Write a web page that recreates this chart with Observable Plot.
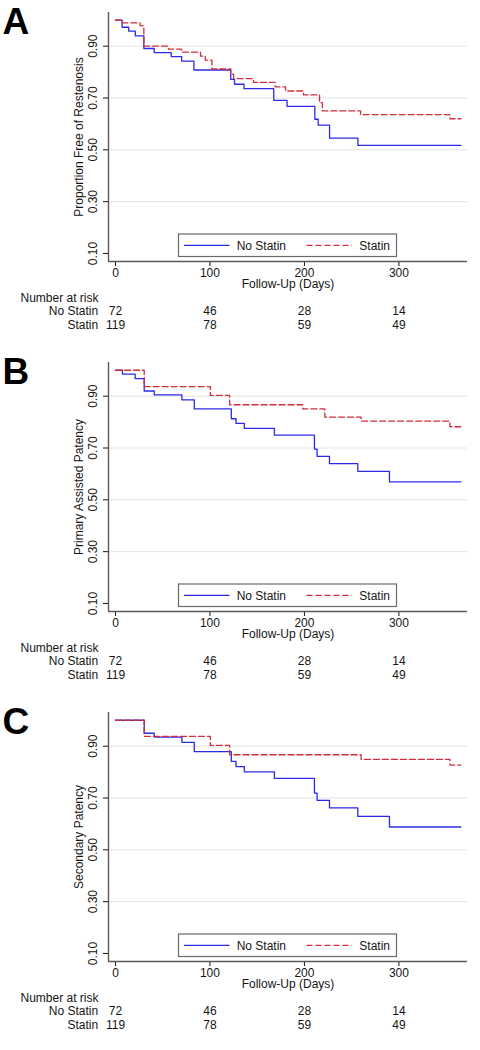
<!DOCTYPE html>
<html><head><meta charset="utf-8">
<script src="https://cdn.jsdelivr.net/npm/d3@7"></script>
<script src="https://cdn.jsdelivr.net/npm/@observablehq/plot@0.6"></script>
<style>
body{margin:0;background:#fff;width:480px;font-family:"Liberation Sans",Arial,Helvetica,sans-serif}
svg{display:block}
</style>
</head><body><div id="chart"></div>
<script>
// ---- data ----
const groups = ["No Statin", "Statin"];
const panelLetters = ["A", "B", "C"];
const yTitles = ["Proportion Free of Restenosis", "Primary Assisted Patency", "Secondary Patency"];
const xTitle = "Follow-Up (Days)";
const xTicks = [0, 100, 200, 300];
const yTicks = [0.1, 0.3, 0.5, 0.7, 0.9];
const gridTicks = [0.3, 0.5, 0.7, 0.9];
const riskTitle = "Number at risk";
const riskDays = [0, 100, 200, 300];
const riskNoStatin = [72, 46, 28, 14];
const riskStatin = [119, 78, 59, 49];
const lastDay = 365.5;

// Panel A
const aNoStatinDays = [0, 7, 14, 21, 30, 41, 59, 70, 83, 122, 126, 136, 167.5, 181.6, 211, 214.6, 226.6, 256.6];
const aNoStatinSurv = [1, 0.973, 0.958, 0.940, 0.891, 0.875, 0.860, 0.842, 0.808, 0.772, 0.753, 0.736, 0.691, 0.668, 0.618, 0.595, 0.545, 0.517];
const aStatinDays = [0, 7, 26, 30, 56, 70, 90, 95, 102, 122, 125, 146, 169, 180, 199, 216, 219, 259.4, 354];
const aStatinSurv = [1, 0.990, 0.979, 0.900, 0.889, 0.877, 0.862, 0.846, 0.812, 0.792, 0.775, 0.760, 0.743, 0.727, 0.712, 0.682, 0.650, 0.636, 0.620];
// Panel B
const bNoStatinDays = [0, 7.4, 20.8, 30.4, 41, 70.3, 83.4, 122.6, 127.6, 136.4, 168.2, 210.6, 213.4, 226.5, 256.5, 290];
const bNoStatinSurv = [1, 0.985, 0.968, 0.920, 0.905, 0.886, 0.851, 0.813, 0.795, 0.776, 0.750, 0.696, 0.668, 0.640, 0.610, 0.569];
const bStatinDays = [0, 30.4, 100.4, 120.8, 198.2, 221.6, 260, 354];
const bStatinSurv = [1, 0.937, 0.903, 0.867, 0.851, 0.819, 0.804, 0.782];
// Panel C
const cNoStatinDays = [0, 30.4, 41, 70.3, 83.4, 122.6, 127.6, 136.4, 168.2, 210.6, 213.4, 226.5, 256.5, 290];
const cNoStatinSurv = [1, 0.950, 0.935, 0.915, 0.879, 0.841, 0.821, 0.801, 0.776, 0.719, 0.691, 0.662, 0.629, 0.588];
const cStatinDays = [0, 30.4, 100.4, 120.8, 260, 354];
const cStatinSurv = [1, 0.938, 0.903, 0.867, 0.849, 0.827];

// ---- styling ----
const blue = "#2b2be6";
const red = "#cf2f3c";
const axisGray = "#5a5a5a";
const gridGray = "#e4e4e4";
const textColor = "#151515";
const font = '"Liberation Sans", Arial, Helvetica, sans-serif';
const xDomain = [-7.4, 372.6];
const yDomain = [0.069, 1.03];
const xMid = (xDomain[0] + xDomain[1]) / 2;
const yMid = (yDomain[0] + yDomain[1]) / 2;

function steps(days, surv) {
  return days.map((d, i) => ({day: d, p: surv[i]}))
    .concat([{day: lastDay, p: surv[surv.length - 1]}]);
}

const panels = [
  {letter: panelLetters[0], title: yTitles[0], no: steps(aNoStatinDays, aNoStatinSurv), st: steps(aStatinDays, aStatinSurv)},
  {letter: panelLetters[1], title: yTitles[1], no: steps(bNoStatinDays, bNoStatinSurv), st: steps(bStatinDays, bStatinSurv)},
  {letter: panelLetters[2], title: yTitles[2], no: steps(cNoStatinDays, cNoStatinSurv), st: steps(cStatinDays, cStatinSurv)}
];

const root = document.getElementById("chart");

for (const pn of panels) {
  const svg = Plot.plot({
    width: 480,
    height: 350,
    marginLeft: 108,
    marginRight: 13,
    marginTop: 12,
    marginBottom: 89,
    style: {fontFamily: font, fontSize: "12px", color: textColor, background: "white"},
    x: {domain: xDomain, ticks: xTicks, tickSize: 5, tickPadding: 2, tickFormat: d => String(d), label: null},
    y: {domain: yDomain, ticks: yTicks, tickSize: 5, tickFormat: () => "", label: null},
    marks: [
      Plot.ruleY(gridTicks, {stroke: gridGray, strokeWidth: 1}),
      Plot.ruleX([xDomain[0]], {stroke: axisGray, strokeWidth: 1.4}),
      Plot.ruleY([yDomain[0]], {stroke: axisGray, strokeWidth: 1.4}),
      Plot.line(pn.no, {x: "day", y: "p", curve: "step-after", stroke: blue, strokeWidth: 1.3}),
      Plot.line(pn.st, {x: "day", y: "p", curve: "step-after", stroke: red, strokeWidth: 1.3, strokeDasharray: "6,3"}),
      Plot.text(yTicks, {y: d => d, text: d => d3.format(".2f")(d), frameAnchor: "left", textAnchor: "middle", dx: -15, rotate: -90, fill: textColor}),
      Plot.text([pn.title], {y: () => yMid, text: d => d, frameAnchor: "left", textAnchor: "middle", dx: -29, rotate: -90, fill: textColor}),
      Plot.text([xTitle], {x: () => xMid, text: d => d, frameAnchor: "bottom", textAnchor: "middle", dy: 26.5, fill: textColor}),
      Plot.text([pn.letter], {y: () => yDomain[1], text: d => d, frameAnchor: "left", dx: -106, dy: 10, fontSize: 37, fontWeight: "bold", textAnchor: "start", fill: "#000"}),
      Plot.text([riskTitle], {x: () => xDomain[0], text: d => d, frameAnchor: "bottom", dx: -88, dy: 40, textAnchor: "start", fill: textColor}),
      Plot.text([groups[0]], {x: () => xDomain[0], text: d => d, frameAnchor: "bottom", dx: -10.3, dy: 53.5, textAnchor: "end", fill: textColor}),
      Plot.text([groups[1]], {x: () => xDomain[0], text: d => d, frameAnchor: "bottom", dx: -10.3, dy: 67, textAnchor: "end", fill: textColor}),
      Plot.text(riskNoStatin, {x: (d, i) => riskDays[i], text: d => String(d), frameAnchor: "bottom", textAnchor: "middle", dy: 53.5, fill: textColor}),
      Plot.text(riskStatin, {x: (d, i) => riskDays[i], text: d => String(d), frameAnchor: "bottom", textAnchor: "middle", dy: 67, fill: textColor})
    ]
  });
  // legend box
  const g = d3.select(svg).append("g")
    .attr("font-family", font).attr("font-size", 12).attr("fill", textColor).attr("text-anchor", "start");
  g.append("rect").attr("x", 178.5).attr("y", 234).attr("width", 218).attr("height", 22.5)
    .attr("fill", "white").attr("stroke", "#6a6a6a").attr("stroke-width", 1.2);
  g.append("line").attr("x1", 184).attr("x2", 229.5).attr("y1", 245.3).attr("y2", 245.3)
    .attr("stroke", blue).attr("stroke-width", 1.3);
  g.append("text").attr("x", 236.7).attr("y", 249.6).text(groups[0]);
  g.append("line").attr("x1", 306.5).attr("x2", 352).attr("y1", 245.3).attr("y2", 245.3)
    .attr("stroke", red).attr("stroke-width", 1.3).attr("stroke-dasharray", "6,3");
  g.append("text").attr("x", 359.3).attr("y", 249.6).text(groups[1]);
  root.appendChild(svg);
}
</script>
</body></html>
